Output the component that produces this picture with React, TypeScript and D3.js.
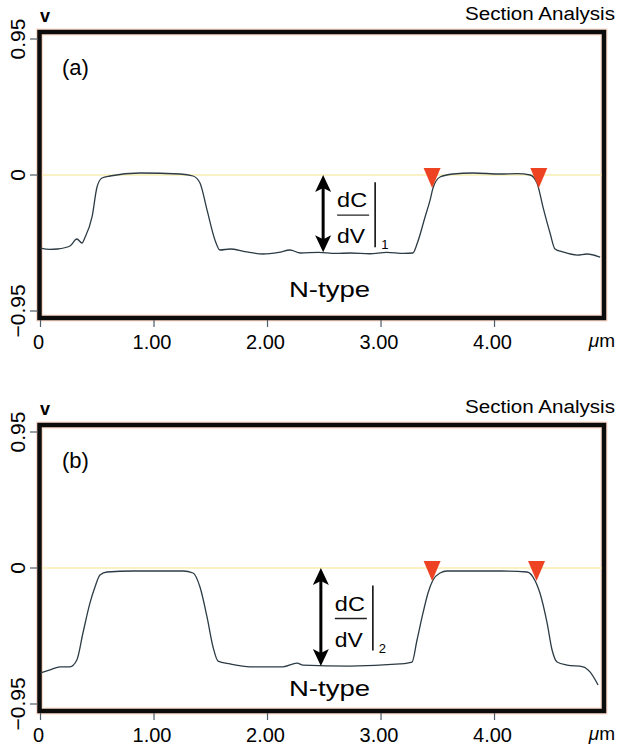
import React, { useRef, useEffect } from 'react';
import * as d3 from 'd3';

const W = 618;
const H = 746;

// section traces: position (µm) and potential (V)
const traceA_um = [0, 0.08, 0.15, 0.26, 0.32, 0.366, 0.39, 0.454, 0.498, 0.542, 0.612, 0.877, 1.229, 1.344, 1.405, 1.467, 1.537, 1.581, 1.67, 1.8, 1.96, 2.1, 2.198, 2.29, 2.45, 2.6, 2.73, 2.9, 3.05, 3.2, 3.28, 3.32, 3.388, 3.432, 3.458, 3.52, 3.634, 3.81, 4.048, 4.2, 4.313, 4.374, 4.427, 4.489, 4.533, 4.604, 4.727, 4.815, 4.93];
const traceA_v = [-0.51, -0.52, -0.517, -0.496, -0.447, -0.475, -0.44, -0.293, -0.084, -0.021, -0.007, 0.014, 0.007, -0.007, -0.056, -0.244, -0.454, -0.524, -0.517, -0.535, -0.552, -0.54, -0.524, -0.545, -0.54, -0.548, -0.545, -0.55, -0.54, -0.548, -0.545, -0.475, -0.293, -0.175, -0.091, -0.014, 0.007, 0.014, 0.007, 0.01, 0, -0.056, -0.224, -0.405, -0.517, -0.538, -0.559, -0.552, -0.573];

const traceB_um = [0, 0.084, 0.172, 0.26, 0.32, 0.374, 0.436, 0.48, 0.524, 0.586, 0.815, 1.256, 1.344, 1.405, 1.467, 1.52, 1.564, 1.67, 1.846, 2.137, 2.26, 2.313, 2.727, 3.167, 3.273, 3.317, 3.37, 3.414, 3.458, 3.52, 3.582, 4.048, 4.286, 4.339, 4.4, 4.463, 4.507, 4.551, 4.639, 4.78, 4.841, 4.912];
const traceB_v = [-0.733, -0.712, -0.69, -0.69, -0.643, -0.454, -0.244, -0.133, -0.049, -0.028, -0.021, -0.021, -0.035, -0.133, -0.342, -0.552, -0.65, -0.67, -0.69, -0.69, -0.664, -0.678, -0.685, -0.67, -0.657, -0.503, -0.314, -0.175, -0.084, -0.035, -0.021, -0.021, -0.028, -0.063, -0.175, -0.384, -0.573, -0.657, -0.678, -0.69, -0.726, -0.817];

const xTicks = [0, 1, 2, 3, 4];
const xTickLabels = ['0', '1.00', '2.00', '3.00', '4.00'];
const yTicks = [0.95, 0, -0.95];
const yTickLabels = ['0.95', '0', '\u22120.95'];

// red cursor markers (µm)
const cursorsA = [3.45, 4.39];
const cursorsB = [3.45, 4.37];

// dC/dV step: arrow position (µm) and bottom level (V)
const arrowA = { um: 2.49, v: -0.54 };
const arrowB = { um: 2.47, v: -0.685 };

const FONT = '"Liberation Sans", Arial, Helvetica, sans-serif';

type PanelCfg = {
  top: number;
  tag: string;
  sub: string;
  um: number[];
  v: number[];
  cursors: number[];
  arrow: { um: number; v: number };
  nTypeV: number;
};

function drawPanel(svg: any, p: PanelCfg) {
  const g = svg.append('g');
  const x = d3.scaleLinear().domain([0, 4.96]).range([40.5, 603.5]);
  const y = d3.scaleLinear().domain([-0.95, 0.95]).range([p.top + 272, p.top]);

  const fl = 39.5, fr = 604;
  const ft = p.top - 7, fb = p.top + 279;

  // frame: faint peach halo + thick black border
  g.append('rect')
    .attr('x', fl).attr('y', ft).attr('width', fr - fl).attr('height', fb - ft)
    .style('fill', '#fff').style('stroke', '#fbdccb').style('stroke-width', 7);
  g.append('rect')
    .attr('x', fl).attr('y', ft).attr('width', fr - fl).attr('height', fb - ft)
    .style('fill', 'none').style('stroke', '#0c0c0c').style('stroke-width', 4.5);

  // zero reference line
  g.append('line')
    .attr('x1', fl + 2.5).attr('x2', fr - 2.5)
    .attr('y1', y(0)).attr('y2', y(0))
    .style('stroke', '#f6eeb2').style('stroke-width', 1.6);

  // trace
  const pts = d3.zip(p.um, p.v) as [number, number][];
  const line = d3.line<[number, number]>()
    .x(d => x(d[0]))
    .y(d => y(d[1]))
    .curve(d3.curveMonotoneX);
  g.append('path')
    .attr('d', line(pts))
    .style('fill', 'none')
    .style('stroke', '#2c3b44')
    .style('stroke-width', 1.3);

  // cursor triangles
  p.cursors.forEach(c => {
    const cx = x(c), cy = y(0);
    g.append('path')
      .attr('d', `M${cx - 8.5},${cy - 7}L${cx + 8.5},${cy - 7}L${cx},${cy + 13}Z`)
      .style('fill', '#ee4322');
  });

  // double arrow
  const ax = x(p.arrow.um);
  const a0 = y(0), a1 = y(p.arrow.v);
  g.append('line')
    .attr('x1', ax).attr('x2', ax)
    .attr('y1', a0 + 10).attr('y2', a1 - 10)
    .style('stroke', '#000').style('stroke-width', 3);
  g.append('path')
    .attr('d', `M${ax},${a0}L${ax + 8},${a0 + 17}L${ax},${a0 + 13}L${ax - 8},${a0 + 17}Z`)
    .style('fill', '#000');
  g.append('path')
    .attr('d', `M${ax},${a1}L${ax + 8},${a1 - 17}L${ax},${a1 - 13}L${ax - 8},${a1 - 17}Z`)
    .style('fill', '#000');

  // dC/dV fraction
  const mid = (a0 + a1) / 2 + 1.5;
  g.append('text').text('dC')
    .attr('x', ax + 14).attr('y', mid - 8)
    .attr('textLength', 30).attr('lengthAdjust', 'spacingAndGlyphs')
    .style('font-family', FONT).style('font-size', '21px');
  g.append('line')
    .attr('x1', ax + 14).attr('x2', ax + 46)
    .attr('y1', mid).attr('y2', mid)
    .style('stroke', '#222').style('stroke-width', 1.4);
  g.append('text').text('dV')
    .attr('x', ax + 14).attr('y', mid + 28)
    .attr('textLength', 28).attr('lengthAdjust', 'spacingAndGlyphs')
    .style('font-family', FONT).style('font-size', '21px');
  g.append('line')
    .attr('x1', ax + 52).attr('x2', ax + 52)
    .attr('y1', mid - 33).attr('y2', mid + 32)
    .style('stroke', '#111').style('stroke-width', 1.6);
  g.append('text').text(p.sub)
    .attr('x', ax + 58).attr('y', mid + 34)
    .style('font-family', FONT).style('font-size', '13px');

  // N-type label
  g.append('text').text('N-type')
    .attr('x', 289).attr('y', y(p.nTypeV))
    .attr('textLength', 81).attr('lengthAdjust', 'spacingAndGlyphs')
    .style('font-family', FONT).style('font-size', '22px');

  // panel tag
  g.append('text').text(p.tag)
    .attr('x', 62).attr('y', p.top + 36)
    .style('font-family', FONT).style('font-size', '22px');

  // y ticks + rotated labels
  yTicks.forEach((t, i) => {
    g.append('line')
      .attr('x1', 30).attr('x2', 38)
      .attr('y1', y(t)).attr('y2', y(t))
      .style('stroke', '#4f5d66').style('stroke-width', 1.2);
    g.append('text').text(yTickLabels[i])
      .attr('x', 25).attr('y', y(t))
      .attr('transform', `rotate(-90,25,${y(t)})`)
      .attr('text-anchor', 'middle')
      .style('font-family', FONT).style('font-size', '21px');
  });

  // x ticks + labels
  xTicks.forEach((t, i) => {
    g.append('line')
      .attr('x1', x(t)).attr('x2', x(t))
      .attr('y1', fb + 2).attr('y2', fb + 9)
      .style('stroke', '#4f5d66').style('stroke-width', 1.2);
    g.append('text').text(xTickLabels[i])
      .attr('x', x(t) - 2).attr('y', fb + 31)
      .attr('text-anchor', 'middle')
      .style('font-family', FONT).style('font-size', '20px');
  });
  const um = g.append('text')
    .attr('x', 615).attr('y', fb + 29)
    .attr('text-anchor', 'end')
    .style('font-family', FONT).style('font-size', '19px');
  um.append('tspan').text('\u03bc').style('font-style', 'italic');
  um.append('tspan').text('m');

  // header
  g.append('text').text('v')
    .attr('x', 40).attr('y', ft - 10)
    .style('font-family', FONT).style('font-size', '18px').style('font-weight', 'bold');
  g.append('text').text('Section Analysis')
    .attr('x', 615).attr('y', ft - 12)
    .attr('text-anchor', 'end')
    .attr('textLength', 150).attr('lengthAdjust', 'spacingAndGlyphs')
    .style('font-family', FONT).style('font-size', '18px');
}

const App = () => {
  const svgRef = useRef<SVGSVGElement>(null);

  useEffect(() => {
    const svg = d3.select(svgRef.current);
    svg.selectAll('*').remove();

    drawPanel(svg, {
      top: 39, tag: '(a)', sub: '1',
      um: traceA_um, v: traceA_v,
      cursors: cursorsA, arrow: arrowA, nTypeV: -0.852,
    });
    drawPanel(svg, {
      top: 432, tag: '(b)', sub: '2',
      um: traceB_um, v: traceB_v,
      cursors: cursorsB, arrow: arrowB, nTypeV: -0.894,
    });
  }, []);

  return (
    <svg
      ref={svgRef}
      width={W}
      height={H}
      style={{ position: 'absolute', left: 0, top: 0, background: '#fff' }}
    />
  );
};

export default App;
